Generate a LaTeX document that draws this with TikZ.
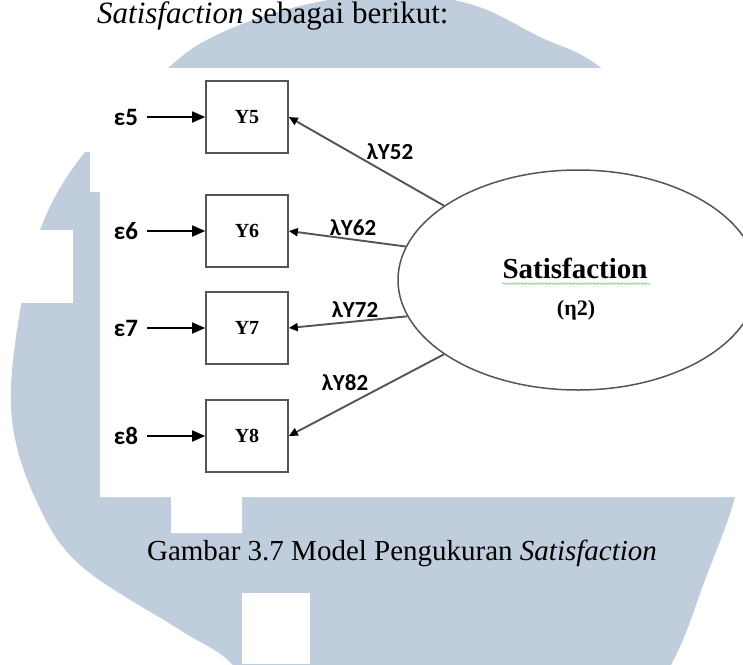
\documentclass[tikz,border=0pt]{standalone}
\usepackage{fontspec}
\setmainfont{Liberation Serif}
\newfontfamily\calibri{Carlito}
\usetikzlibrary{arrows.meta,shapes.geometric,decorations.pathmorphing}

\definecolor{markblue}{RGB}{192,205,220}
\definecolor{linegray}{RGB}{85,85,85}
\definecolor{squiggle}{RGB}{125,200,125}

\tikzset{
  indicator/.style={draw=linegray, line width=1.6pt, minimum width=82pt, minimum height=72pt,
    inner sep=0pt, font=\bfseries\fontsize{20}{20}\selectfont},
  errlabel/.style={inner sep=1pt, font=\calibri\bfseries\fontsize{25}{25}\selectfont},
  loading/.style={inner sep=0pt, font=\calibri\bfseries\fontsize{23}{23}\selectfont},
  errarrow/.style={-{Triangle[length=13pt,width=11pt]}, line width=1.7pt, shorten <=8pt},
  loadarrow/.style={-{Triangle[length=9pt,width=8pt,color=black]}, draw=linegray, line width=1.9pt},
  bodytext/.style={inner sep=0pt},
}

\begin{document}
\begin{tikzpicture}[x=1pt,y=-1pt]
\useasboundingbox (0,0) rectangle (743,664);

% watermark behind the page
\begin{scope}
\clip (0,0) rectangle (743,664);
\fill[markblue] plot[smooth cycle, tension=0.6] coordinates {
  (385,-6) (470,4) (540,37) (600,67) (690,150) (745,290) (748,420) (735,497)
  (705,580) (672,663) (610,760) (430,800) (280,730) (232,664) (180,630)
  (80,565) (36,500) (12,420) (17,330) (40,230) (85,152) (168,68) (221,33) (300,6)};
\fill[white] (0,230) rectangle (73,303);
\fill[white] (242,593) rectangle (310,664);
% white ground of the figure
\fill[white] (0,68) -- (743,68) -- (743,497) -- (242,497) -- (242,533) -- (171,533)
  -- (171,497) -- (100,497) -- (100,192) -- (90,192) -- (90,152) -- (0,152) -- cycle;
\end{scope}

% text around the figure
\node[bodytext, anchor=base west, font=\fontsize{31}{31}\selectfont] (intro) at (97,23)
  {\textit{Satisfaction} sebagai berikut:};
\node[bodytext, anchor=base, font=\fontsize{29}{29}\selectfont] (caption) at (402,560)
  {Gambar 3.7 Model Pengukuran \textit{Satisfaction}};

% indicators
\node[indicator] (y5) at (247,117) {Y5};
\node[indicator] (y6) at (247,231) {Y6};
\node[indicator] (y7) at (247,328) {Y7};
\node[indicator] (y8) at (247,436) {Y8};

% error terms
\node[errlabel] (e5) at (126,117) {ε5};
\node[errlabel] (e6) at (126,231) {ε6};
\node[errlabel] (e7) at (126,328) {ε7};
\node[errlabel] (e8) at (126,436) {ε8};

\draw[errarrow] (e5) -- (y5);
\draw[errarrow] (e6) -- (y6);
\draw[errarrow] (e7) -- (y7);
\draw[errarrow] (e8) -- (y8);

% latent construct
\node[ellipse, draw=linegray, line width=1.5pt, minimum width=360pt, minimum height=220pt] (sat) at (578,280) {};
\node[inner sep=0pt, font=\bfseries\fontsize{29}{29}\selectfont] (satname) at (575,268) {Satisfaction};
\node[inner sep=0pt, font=\bfseries\fontsize{22}{22}\selectfont] (eta) at (576,310) {(η2)};
\draw[squiggle, line width=0.6pt, decorate, decoration={snake, amplitude=0.8pt, segment length=3pt}]
  (satname.south west) ++(0,5) -- ++(148,0);

% loadings
\draw[loadarrow] (sat.151) -- (y5.east);
\draw[loadarrow] (sat.169.5) -- (y6.east);
\draw[loadarrow] (sat.192.5) -- (y7.east);
\draw[loadarrow] (sat.209.7) -- (y8.east);

\node[loading] (l52) at (390,152) {λY52};
\node[loading] (l62) at (353,228) {λY62};
\node[loading] (l72) at (355,310) {λY72};
\node[loading] (l82) at (345,383) {λY82};

\end{tikzpicture}
\end{document}
